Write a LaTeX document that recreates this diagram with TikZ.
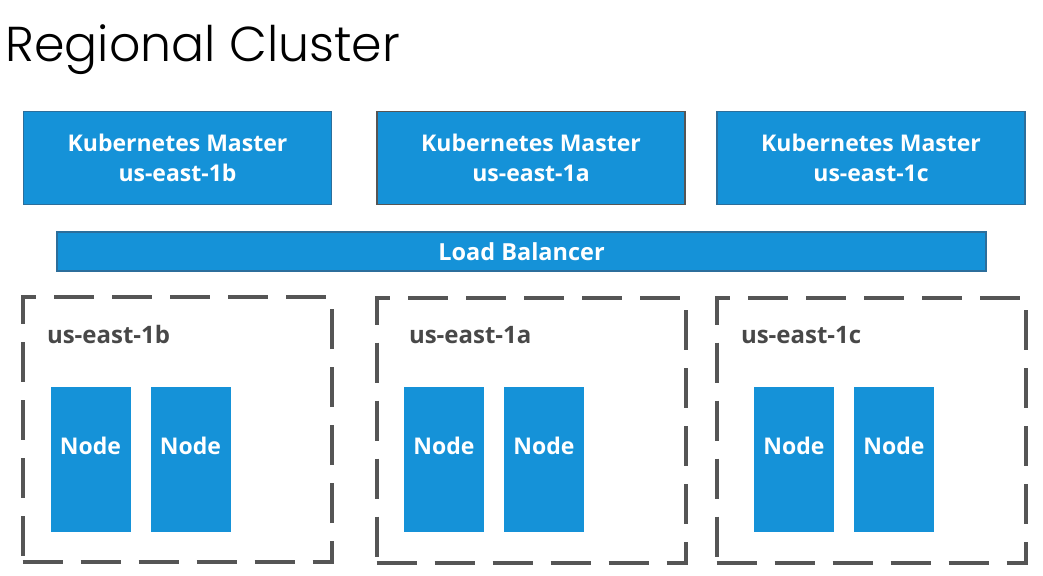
\documentclass[tikz,border=0pt]{standalone}
\usepackage{fontspec}
\setmainfont{Open Sans}
\newfontfamily\titlefont{Poppins}[UprightFont=* Light]
\usetikzlibrary{positioning}
\definecolor{kblue}{HTML}{1592D8}
\definecolor{kedge}{HTML}{2C6E9B}
\definecolor{zgray}{HTML}{555555}

\begin{document}
\begin{tikzpicture}[x=1pt,y=-1pt,node distance=100pt,on grid,
    master/.style={draw=kedge,line width=1.2pt,fill=kblue,minimum width=308pt,minimum height=93pt,
      inner sep=0pt,align=center,text=white,font=\bfseries\fontsize{23}{30}\selectfont},
    lb/.style={draw=kedge,line width=1.2pt,fill=kblue,minimum width=929pt,minimum height=39pt,
      inner sep=0pt,text=white,font=\bfseries\fontsize{23.5}{26}\selectfont},
    zone/.style={draw=zgray,line width=4pt,dash pattern=on 40pt off 18pt,minimum width=309pt,minimum height=265pt,inner sep=0pt},
    zlabel/.style={anchor=base west,text=zgray!85!black,font=\bfseries\fontsize{24}{26}\selectfont},
    worker/.style={fill=kblue,minimum width=80pt,minimum height=145pt,inner sep=0pt,
      text height=16pt,text depth=26pt,text=white,font=\bfseries\fontsize{23}{26}\selectfont}]
  \useasboundingbox (0,0) rectangle (1043,575);
  \node(title)[anchor=base west,font=\titlefont\fontsize{49}{60}\selectfont] at (2,62) {Regional Cluster};
  % masters
  \node(m1b)[master] at (177.5,158) {Kubernetes Master\\us-east-1b};
  \node(m1a)[master,draw=zgray] at (531,158) {Kubernetes Master\\us-east-1a};
  \node(m1c)[master] at (871,158) {Kubernetes Master\\us-east-1c};
  \node(lb)[lb] at (521.5,251.5) {Load Balancer};
  % zones
  \node(z1b)[zone] at (177,429.5) {};
  \node(z1a)[zone] at (531,430) {};
  \node(z1c)[zone] at (871,430) {};
  \node(l1b)[zlabel,xshift=23pt,yshift=-48pt] at (z1b.north west) {us-east-1b};
  \node(l1a)[zlabel,xshift=31pt,yshift=-48pt] at (z1a.north west) {us-east-1a};
  \node(l1c)[zlabel,xshift=23pt,yshift=-48pt] at (z1c.north west) {us-east-1c};
  % nodes
  \node(n1b)[worker] at (90.5,459) {Node};
  \node(n1b')[worker,right=of n1b] {Node};
  \node(n1a)[worker] at (444,459) {Node};
  \node(n1a')[worker,right=of n1a] {Node};
  \node(n1c)[worker] at (794,459) {Node};
  \node(n1c')[worker,right=of n1c] {Node};
\end{tikzpicture}
\end{document}
